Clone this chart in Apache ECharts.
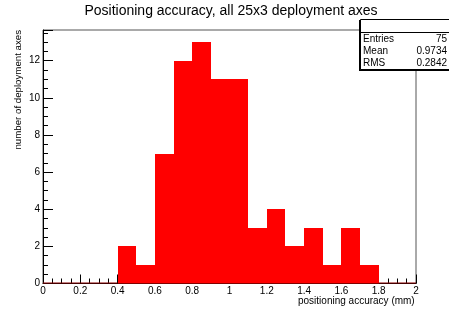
<!DOCTYPE html>
<head>
    <meta charset="utf-8"/>
    <style>
        html,body { height:100%; width:100%; margin:0; padding:0; background:#fff; }
    </style>
</head>
<body>
<div id="hist" style="width:449px;height:309px"></div>

<script src="https://cdn.jsdelivr.net/npm/echarts@6/dist/echarts.min.js"></script>
<script type="text/javascript">

 // bin lower edges (bin width 0.1 mm) and counts
 var binLow = [0, 0.1, 0.2, 0.3, 0.4, 0.5, 0.6, 0.7, 0.8, 0.9, 1.0, 1.1, 1.2, 1.3, 1.4, 1.5, 1.6, 1.7, 1.8, 1.9];
 var counts = [0, 0, 0, 0, 2, 1, 7, 12, 13, 11, 11, 3, 4, 2, 3, 1, 3, 1, 0, 0];
 var binWidth = 0.1;
 // stats box
 var statNames = ['Entries', 'Mean', 'RMS'];
 var statValues = ['75', '0.9734', '0.2842'];

 var font = 'Liberation Sans';

 var histData = [];
 for (var i = 0; i < binLow.length; i++) {
     histData.push([binLow[i], binLow[i] + binWidth, counts[i]]);
 }

 var statTexts = [];
 for (var k = 0; k < statNames.length; k++) {
     statTexts.push({
         type: 'text', left: 363, top: 34 + k * 12, z: 102,
         style: { text: statNames[k], font: '10px ' + font, fill: '#000' }
     });
     statTexts.push({
         type: 'text', right: 2, top: 34 + k * 12, z: 102,
         style: { text: statValues[k], font: '10px ' + font, fill: '#000', textAlign: 'right' }
     });
 }

 var myChart = echarts.init(document.getElementById('hist'));

 var option = {
    animation: false,
    title: {
        text: 'Positioning accuracy, all 25x3 deployment axes',
        left: 226, top: -1, textAlign: 'center',
        textStyle: { fontFamily: font, fontSize: 14, fontWeight: 'normal', color: '#000' }
    },
    grid: {
        left: 43, right: 33, top: 30, bottom: 25.5,
        show: true, borderColor: '#555', borderWidth: 1, backgroundColor: '#fff'
    },
    xAxis: {
        type: 'value', min: 0, max: 2, interval: 0.2,
        axisLine: { show: true, onZero: false, lineStyle: { color: '#000', width: 1 } },
        axisTick: { show: true, inside: true, length: 9, lineStyle: { color: '#000' } },
        minorTick: { show: true, splitNumber: 4, length: 5, lineStyle: { color: '#000' } },
        splitLine: { show: false },
        axisLabel: { margin: 3, fontFamily: font, fontSize: 10, color: '#000',
            formatter: function (v) { return String(+v.toFixed(1)); } }
    },
    yAxis: {
        type: 'value', min: 0, max: 13.65, interval: 2,
        axisLine: { show: true, lineStyle: { color: '#000', width: 1 } },
        axisTick: { show: true, inside: true, length: 10, lineStyle: { color: '#000' } },
        minorTick: { show: true, splitNumber: 4, length: 5, lineStyle: { color: '#000' } },
        splitLine: { show: false },
        axisLabel: { margin: 3, fontFamily: font, fontSize: 10, color: '#000', showMaxLabel: false }
    },
    series: [{
        type: 'custom',
        data: histData,
        encode: { x: [0, 1], y: 2 },
        renderItem: function (params, api) {
            var p0 = api.coord([api.value(0), api.value(2)]);
            var p1 = api.coord([api.value(1), 0]);
            var x0 = Math.round(p0[0]), x1 = Math.round(p1[0]);
            var y0 = Math.round(p0[1]), y1 = p1[1];
            if (api.value(2) <= 0) {
                return {
                    type: 'line',
                    shape: { x1: p0[0], y1: y1 - 0.5, x2: p1[0], y2: y1 - 0.5 },
                    style: { stroke: '#8b0000', lineWidth: 1 }
                };
            }
            return {
                type: 'rect',
                shape: { x: x0, y: y0, width: x1 - x0, height: y1 - y0 },
                style: { fill: '#ff0000' }
            };
        },
        z: 1
    }],
    graphic: [
        {
            type: 'text', left: 298, top: 296,
            style: { text: 'positioning accuracy (mm)', font: '10px ' + font, fill: '#000' }
        },
        {
            type: 'text', x: 13, y: 30, rotation: Math.PI / 2,
            style: { text: 'number of deployment axes', font: '9.7px ' + font, fill: '#000', textAlign: 'right' }
        },
        {
            type: 'rect', shape: { x: 359, y: 20, width: 95, height: 51 }, z: 100,
            style: { fill: '#000' }
        },
        {
            type: 'rect', shape: { x: 360.5, y: 19.5, width: 95, height: 50 }, z: 101,
            style: { fill: '#fff', stroke: '#000', lineWidth: 1 }
        },
        {
            type: 'line', shape: { x1: 360.5, y1: 32.5, x2: 449, y2: 32.5 }, z: 101,
            style: { stroke: '#000', lineWidth: 1 }
        }
    ].concat(statTexts)
 };

 myChart.setOption(option);
</script>
</body>
